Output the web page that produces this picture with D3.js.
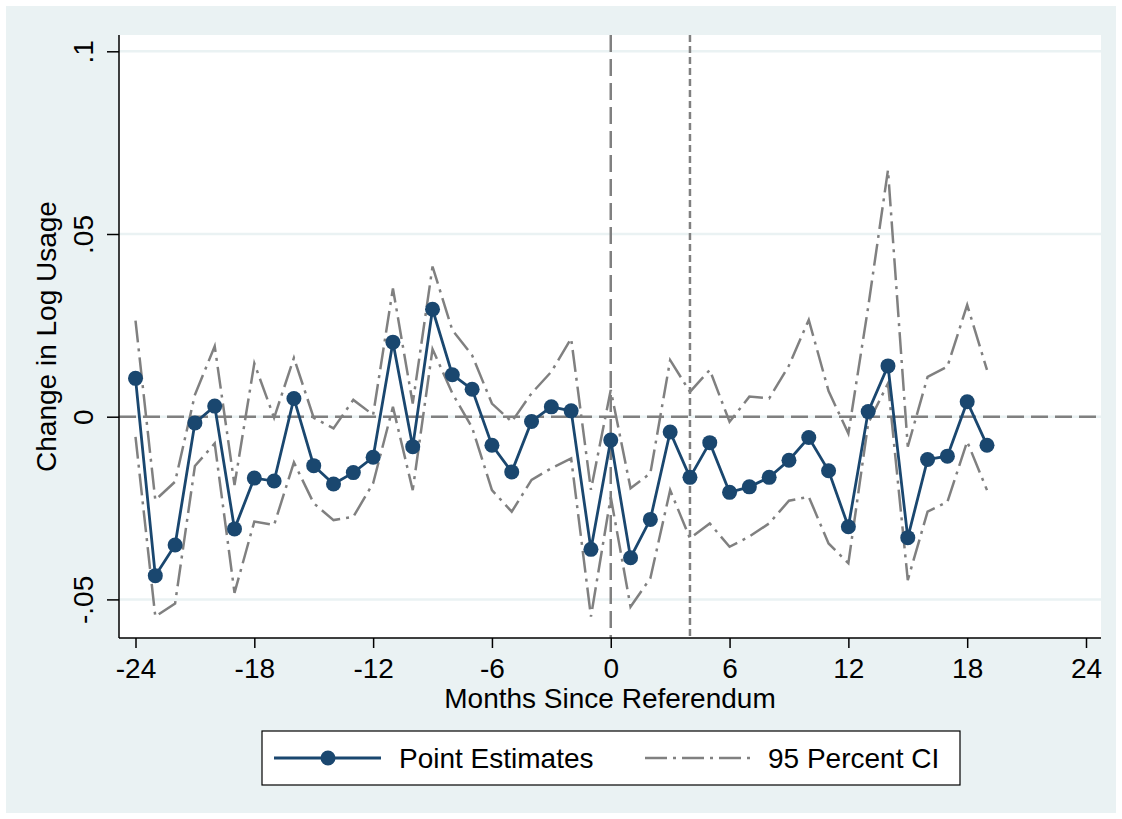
<!DOCTYPE html>
<html>
<head>
<meta charset="utf-8">
<script src="https://cdn.jsdelivr.net/npm/d3@7"></script>
<style>
  body { margin: 0; background: #ffffff; }
  svg { display: block; font-family: "Liberation Sans", Arial, Helvetica, sans-serif; }
</style>
</head>
<body>
<div id="chart"></div>
<script>
// Months since referendum (x categories)
const months = [-24, -23, -22, -21, -20, -19, -18, -17, -16, -15, -14, -13,
                -12, -11, -10, -9, -8, -7, -6, -5, -4, -3, -2, -1,
                0, 1, 2, 3, 4, 5, 6, 7, 8, 9, 10, 11,
                12, 13, 14, 15, 16, 17, 18, 19];

// Point estimates
const estimates = [0.0105, -0.0435, -0.0351, -0.0017, 0.0029, -0.0307, -0.0168, -0.0176, 0.0050, -0.0134, -0.0184, -0.0153,
                   -0.0111, 0.0204, -0.0082, 0.0294, 0.0115, 0.0075, -0.0078, -0.0151, -0.0013, 0.0027, 0.0016, -0.0363,
                   -0.0064, -0.0386, -0.0281, -0.0042, -0.0166, -0.0071, -0.0207, -0.0192, -0.0166, -0.0119, -0.0057, -0.0148,
                   -0.0301, 0.0014, 0.0139, -0.0331, -0.0117, -0.0108, 0.0041, -0.0078];

// 95 percent CI bounds
const ciUpper = [0.0263, -0.0228, -0.0178, 0.0060, 0.0193, -0.0187, 0.0146, -0.0003, 0.0161, -0.0003, -0.0032, 0.0046,
                 0.0005, 0.0351, 0.0036, 0.0411, 0.0237, 0.0168, 0.0036, -0.0014, 0.0064, 0.0123, 0.0214, -0.0200,
                 0.0073, -0.0196, -0.0155, 0.0155, 0.0068, 0.0128, -0.0014, 0.0055, 0.0050, 0.0140, 0.0265, 0.0070,
                 -0.0046, 0.0300, 0.0675, -0.0082, 0.0109, 0.0137, 0.0306, 0.0128];

const ciLower = [-0.0055, -0.0547, -0.0511, -0.0135, -0.0073, -0.0482, -0.0287, -0.0296, -0.0125, -0.0237, -0.0283, -0.0274,
                 -0.0182, 0.0027, -0.0201, 0.0185, 0.0064, -0.0030, -0.0201, -0.0260, -0.0173, -0.0141, -0.0114, -0.0547,
                 -0.0220, -0.0520, -0.0442, -0.0201, -0.0333, -0.0292, -0.0356, -0.0328, -0.0292, -0.0230, -0.0219, -0.0347,
                 -0.0401, -0.0018, 0.0091, -0.0447, -0.0260, -0.0233, -0.0068, -0.0201];

// Axis ticks and labels
const xTicks = [-24, -18, -12, -6, 0, 6, 12, 18, 24];
const yTicks = [-0.05, 0, 0.05, 0.1];
const yTickLabels = ["-.05", "0", ".05", ".1"];

// Reference lines
const hLines = [0];
const vLinesLong = [0];
const vLinesShort = [4];

const W = 1122, H = 819;
const fontSize = 28;
const plot = { left: 119, right: 1101, top: 35, bottom: 638 };

const navy = "#1a476f";
const grey = "#808080";

const svg = d3.select("#chart")
  .append("svg")
  .attr("width", W)
  .attr("height", H);

// graph region
svg.append("rect")
  .attr("x", 6).attr("y", 6)
  .attr("width", W - 12).attr("height", H - 12)
  .attr("fill", "#eaf2f3");

// plot region
svg.append("rect")
  .attr("x", plot.left).attr("y", plot.top)
  .attr("width", plot.right - plot.left).attr("height", plot.bottom - plot.top)
  .attr("fill", "#ffffff");

const x = d3.scaleLinear().domain([-24, 24]).range([135.5, 1086]);
const y = d3.scaleLinear().domain([-0.05, 0.1]).range([599.4, 51.3]);

// grid lines
svg.append("g")
  .selectAll("line")
  .data(yTicks)
  .enter()
  .append("line")
  .attr("x1", plot.left).attr("x2", plot.right)
  .attr("y1", d => y(d)).attr("y2", d => y(d))
  .attr("stroke", "#eaf2f3")
  .attr("stroke-width", 2.5);

// reference lines
svg.append("g")
  .selectAll("line")
  .data(hLines)
  .enter()
  .append("line")
  .attr("x1", plot.left).attr("x2", plot.right)
  .attr("y1", d => y(d)).attr("y2", d => y(d))
  .attr("stroke", grey)
  .attr("stroke-width", 2.5)
  .attr("stroke-dasharray", "17,7");

svg.append("g")
  .selectAll("line")
  .data(vLinesLong)
  .enter()
  .append("line")
  .attr("x1", d => x(d)).attr("x2", d => x(d))
  .attr("y1", plot.top).attr("y2", plot.bottom)
  .attr("stroke", grey)
  .attr("stroke-width", 2.5)
  .attr("stroke-dasharray", "17,7");

svg.append("g")
  .selectAll("line")
  .data(vLinesShort)
  .enter()
  .append("line")
  .attr("x1", d => x(d)).attr("x2", d => x(d))
  .attr("y1", plot.top).attr("y2", plot.bottom)
  .attr("stroke", grey)
  .attr("stroke-width", 2.5)
  .attr("stroke-dasharray", "7,4");

// CI lines
const ciDash = "22,6,3,6";
[ciUpper, ciLower].forEach(series => {
  const line = d3.line()
    .x((d, i) => x(months[i]))
    .y(d => y(d));
  svg.append("path")
    .datum(series)
    .attr("d", line)
    .attr("fill", "none")
    .attr("stroke", grey)
    .attr("stroke-width", 2.5)
    .attr("stroke-dasharray", ciDash);
});

// point estimates
const estLine = d3.line()
  .x((d, i) => x(months[i]))
  .y(d => y(d));

svg.append("path")
  .datum(estimates)
  .attr("d", estLine)
  .attr("fill", "none")
  .attr("stroke", navy)
  .attr("stroke-width", 2.8);

svg.append("g")
  .selectAll("circle")
  .data(estimates)
  .enter()
  .append("circle")
  .attr("cx", (d, i) => x(months[i]))
  .attr("cy", d => y(d))
  .attr("r", 7.5)
  .attr("fill", navy);

// y-axis
const yAxis = d3.axisLeft(y)
  .tickValues(yTicks)
  .tickFormat((d, i) => yTickLabels[i])
  .tickSize(12)
  .tickSizeOuter(0);

const gy = svg.append("g")
  .attr("transform", `translate(${plot.left}, 0)`)
  .call(yAxis);

gy.select(".domain").remove();
gy.append("line")
  .attr("x1", 0).attr("x2", 0)
  .attr("y1", plot.top).attr("y2", plot.bottom)
  .attr("stroke", "black").attr("stroke-width", 1.5);
gy.selectAll(".tick line").attr("stroke", "black").attr("stroke-width", 1.5);
gy.selectAll(".tick text")
  .attr("x", null).attr("dy", null)
  .attr("transform", "translate(-26, 0) rotate(-90)")
  .attr("text-anchor", "middle")
  .attr("fill", "black")
  .style("font-size", fontSize + "px")
  .style("font-family", "'Liberation Sans', Arial, sans-serif");

svg.append("text")
  .attr("transform", `translate(56, ${(plot.top + plot.bottom) / 2}) rotate(-90)`)
  .attr("text-anchor", "middle")
  .style("font-size", fontSize + "px")
  .text("Change in Log Usage");

// x-axis
const xAxis = d3.axisBottom(x)
  .tickValues(xTicks)
  .tickFormat(d => String(d))
  .tickSize(10)
  .tickPadding(12)
  .tickSizeOuter(0);

const gx = svg.append("g")
  .attr("transform", `translate(0, ${plot.bottom})`)
  .call(xAxis);

gx.select(".domain").remove();
gx.append("line")
  .attr("x1", plot.left).attr("x2", plot.right)
  .attr("y1", 0).attr("y2", 0)
  .attr("stroke", "black").attr("stroke-width", 1.5);
gx.selectAll(".tick line").attr("stroke", "black").attr("stroke-width", 1.5);
gx.selectAll(".tick text")
  .attr("dy", null)
  .attr("y", 40)
  .attr("fill", "black")
  .style("font-size", fontSize + "px")
  .style("font-family", "'Liberation Sans', Arial, sans-serif");

svg.append("text")
  .attr("x", (plot.left + plot.right) / 2)
  .attr("y", 708)
  .attr("text-anchor", "middle")
  .style("font-size", fontSize + "px")
  .text("Months Since Referendum");

// legend
const legend = svg.append("g");
legend.append("rect")
  .attr("x", 262).attr("y", 731)
  .attr("width", 698).attr("height", 54)
  .attr("fill", "white")
  .attr("stroke", "black")
  .attr("stroke-width", 1.2);

legend.append("line")
  .attr("x1", 274).attr("x2", 381)
  .attr("y1", 758).attr("y2", 758)
  .attr("stroke", navy).attr("stroke-width", 2.8);
legend.append("circle")
  .attr("cx", 328).attr("cy", 758).attr("r", 7.5)
  .attr("fill", navy);
legend.append("text")
  .attr("x", 399).attr("y", 768)
  .style("font-size", fontSize + "px")
  .text("Point Estimates");

legend.append("line")
  .attr("x1", 645).attr("x2", 751)
  .attr("y1", 758).attr("y2", 758)
  .attr("stroke", grey).attr("stroke-width", 2.5)
  .attr("stroke-dasharray", ciDash);
legend.append("text")
  .attr("x", 768).attr("y", 768)
  .style("font-size", fontSize + "px")
  .text("95 Percent CI");
</script>
</body>
</html>
